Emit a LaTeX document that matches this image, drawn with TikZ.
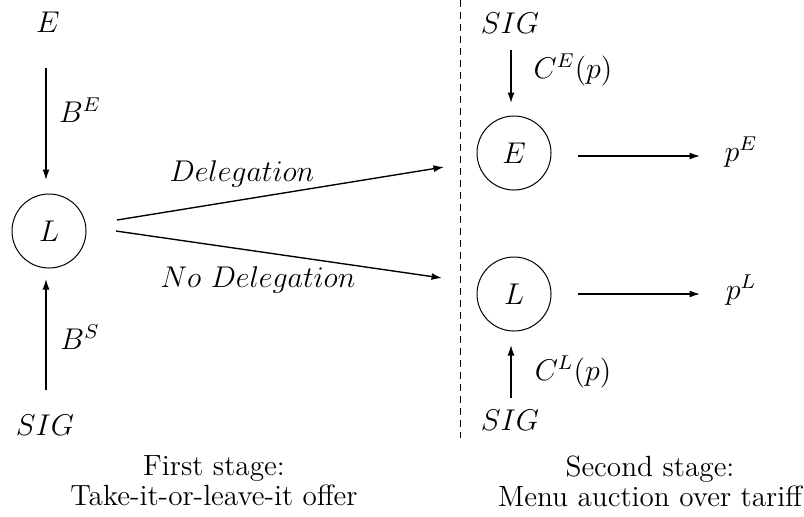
\documentclass[tikz,border=0pt]{standalone}
\usetikzlibrary{arrows.meta}
\begin{document}
\begin{tikzpicture}[x=0.4pt,y=-0.4pt,
  lbl/.style={inner sep=0pt, font=\fontsize{11.7}{12}\selectfont},
  agent/.style={draw, circle, minimum size=74*0.4pt, inner sep=0pt, line width=0.4pt, font=\fontsize{11.7}{12}\selectfont},
  arr/.style={line width=0.55pt, -{Latex[length=4.2pt,width=2.8pt]}}]
\useasboundingbox (0,0) rectangle (804,516);
% left part
\node[lbl] (E1) at (48,22) {$E$};
\node[agent] (L1) at (49,231) {$L$};
\node[lbl] (S1) at (45,425) {$SIG$};
\coordinate (a1s) at (46,68);
\coordinate (a1e) at (46,180);
\draw[arr] (a1s) -- (a1e);
\node[lbl] (BE) at (80,110) {$B^E$};
\coordinate (a2s) at (46,390);
\coordinate (a2e) at (46,279);
\draw[arr] (a2s) -- (a2e);
\node[lbl] (BS) at (80,337) {$B^S$};
% branches
\coordinate (d1s) at (117,220);
\coordinate (d1e) at (444,167);
\draw[arr] (d1s) -- (d1e);
\node[lbl] (Del) at (242,174) {$Delegation$};
\coordinate (d2s) at (116,231);
\coordinate (d2e) at (442,278);
\draw[arr] (d2s) -- (d2e);
\node[lbl] (NoDel) at (258,280) {$No\ Delegation$};
% divider
\coordinate (v1) at (460,0);
\coordinate (v2) at (460,438);
\draw[line width=0.4pt, dash pattern=on 2.8pt off 2pt] (v1) -- (v2);
% right part
\node[lbl] (S2) at (510,23) {$SIG$};
\node[agent] (E2) at (514,153) {$E$};
\node[agent] (L2) at (514,294) {$L$};
\node[lbl] (S3) at (510,420) {$SIG$};
\coordinate (c1s) at (511,50);
\coordinate (c1e) at (511,103);
\draw[arr] (c1s) -- (c1e);
\node[lbl] (CE) at (573,70) {$C^E(p)$};
\coordinate (c2s) at (511,398);
\coordinate (c2e) at (511,345);
\draw[arr] (c2s) -- (c2e);
\node[lbl] (CL) at (573,372) {$C^L(p)$};
\node[lbl] (pE) at (741,152) {$p^E$};
\node[lbl] (pL) at (741,290) {$p^L$};
\coordinate (o1s) at (578,156);
\coordinate (o1e) at (700,156);
\draw[arr] (o1s) -- (o1e);
\coordinate (o2s) at (578,294);
\coordinate (o2e) at (700,294);
\draw[arr] (o2s) -- (o2e);
% captions
\node[lbl, align=center] (cap1) at (214,481) {First stage:\\Take-it-or-leave-it offer};
\node[lbl, align=center] (cap2) at (650,481) {Second stage:\\Menu auction over tariff};
\end{tikzpicture}
\end{document}
